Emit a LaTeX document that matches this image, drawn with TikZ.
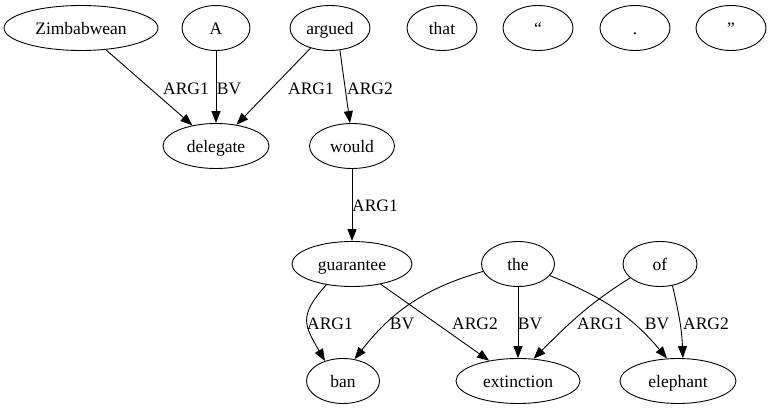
\documentclass[tikz,border=0pt]{standalone}
\usepackage{fontspec}
\setmainfont{Liberation Serif}
\usetikzlibrary{shapes.geometric,arrows.meta}
\begin{document}
\begin{tikzpicture}[x=1pt,y=1pt,
  wn/.style={draw, ellipse, line width=0.9pt, minimum height=45pt, inner sep=0pt,
             text height=14pt, text depth=0pt, font=\fontsize{17.5}{20}\selectfont},
  lbl/.style={anchor=base, inner sep=0pt, font=\fontsize{17.5}{20}\selectfont},
  edge/.style={draw, line width=0.9pt, -{Triangle[length=12pt,width=9pt]}}]
\useasboundingbox (0,0) rectangle (772,-411);
% nodes
\node[wn, minimum width=154pt] (zim) at (81,-28) {Zimbabwean};
\node[wn, minimum width=68pt] (a) at (216,-28) {A};
\node[wn, minimum width=80pt] (argued) at (330,-28) {argued};
\node[wn, minimum width=70pt] (that) at (442,-28) {that};
\node[wn, minimum width=70pt] (lq) at (538,-28) {“};
\node[wn, minimum width=70pt] (dot) at (635,-28) {.};
\node[wn, minimum width=70pt] (rq) at (731,-28) {”};
\node[wn, minimum width=106pt] (del) at (216,-146) {delegate};
\node[wn, minimum width=85pt] (would) at (352,-146) {would};
\node[wn, minimum width=120pt] (guar) at (352,-264) {guarantee};
\node[wn, minimum width=73pt] (the) at (518,-264) {the};
\node[wn, minimum width=74pt] (of) at (660,-264) {of};
\node[wn, minimum width=73pt] (ban) at (343,-381) {ban};
\node[wn, minimum width=124pt] (ext) at (518,-381) {extinction};
\node[wn, minimum width=116pt] (ele) at (678,-381) {elephant};
% edges
\draw[edge] (zim) -- (del);
\draw[edge] (a) -- (del);
\draw[edge] (argued) -- (del);
\draw[edge] (argued.-66) -- (would.95);
\draw[edge] (would) -- (guar);
\draw[edge] (guar.219) to[out=228,in=120,looseness=1.4] (ban.132);
\draw[edge] (guar) -- (ext);
\draw[edge] (the.192) to[out=196,in=52] (ban.62);
\draw[edge] (the) -- (ext);
\draw[edge] (the.-20) to[out=-22,in=130] (ele.116);
\draw[edge] (of.205) to[out=212,in=45] (ext.55);
\draw[edge] (of.-60) to[out=-77,in=92] (ele.78);
% labels
\node[lbl] (l1) at (186,-95) {ARG1};
\node[lbl] (l2) at (229,-95) {BV};
\node[lbl] (l3) at (311,-95) {ARG1};
\node[lbl] (l4) at (370,-95) {ARG2};
\node[lbl] (l5) at (375,-212) {ARG1};
\node[lbl] (l6) at (330,-330) {ARG1};
\node[lbl] (l7) at (402,-330) {BV};
\node[lbl] (l8) at (475,-330) {ARG2};
\node[lbl] (l9) at (530,-330) {BV};
\node[lbl] (l10) at (600,-330) {ARG1};
\node[lbl] (l11) at (657,-330) {BV};
\node[lbl] (l12) at (706,-330) {ARG2};
\end{tikzpicture}
\end{document}
